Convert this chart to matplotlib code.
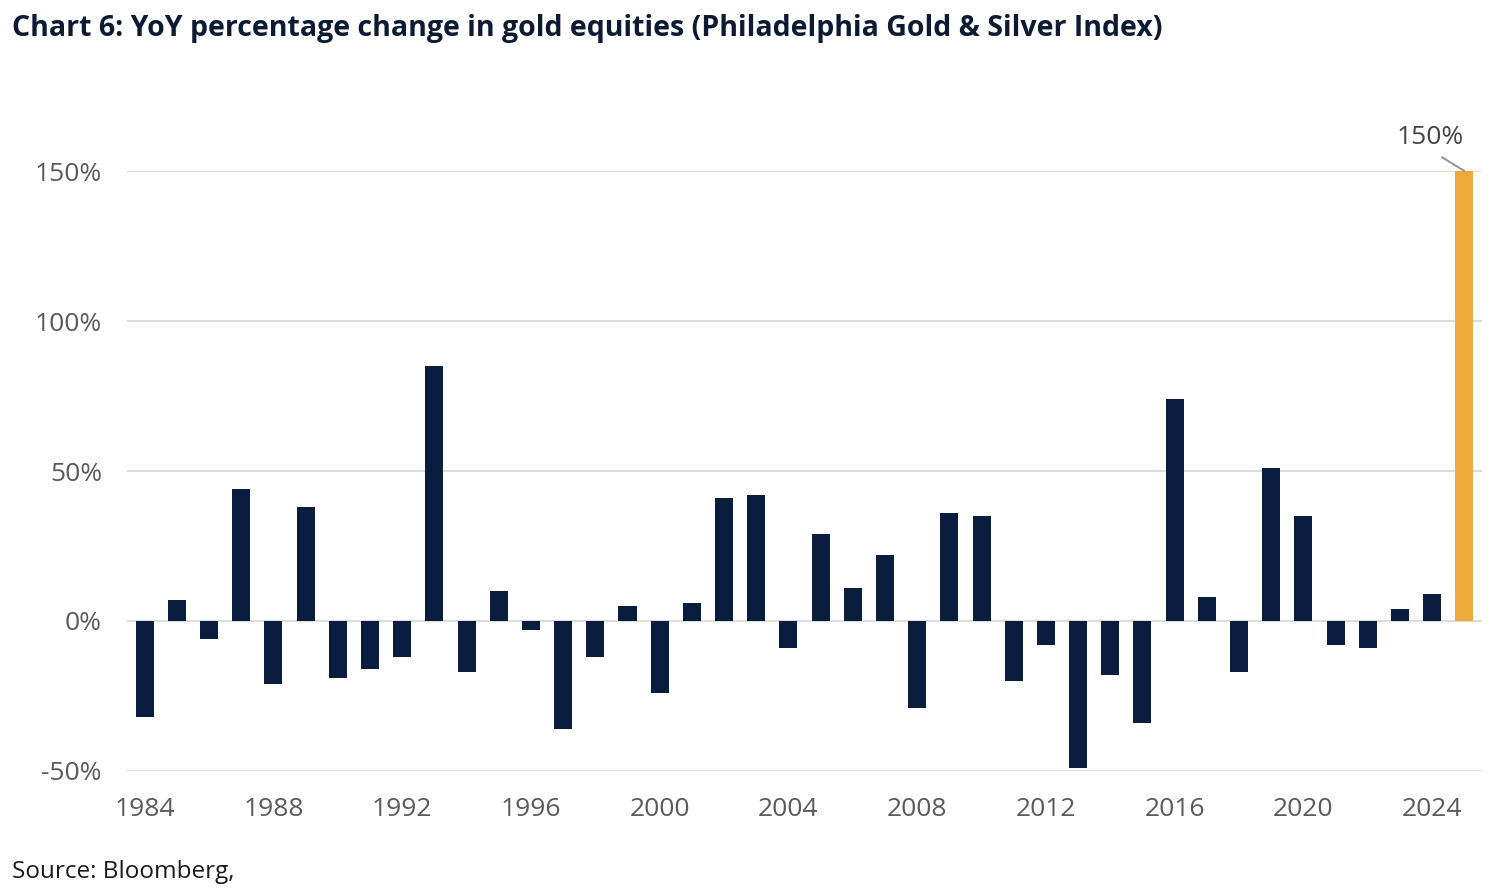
import matplotlib.pyplot as plt
import numpy as np

years = list(range(1984, 2026))
changes = [-32, 7, -6, 44, -21, 38, -19, -16, -12, 85,
           -17, 10, -3, -36, -12, 5, -24, 6, 41, 42,
           -9, 29, 11, 22, -29, 36, 35, -20, -8, -49,
           -18, -34, 74, 8, -17, 51, 35, -8, -9, 4,
           9, 150]
tick_years = list(range(1984, 2025, 4))
yticks = [-50, 0, 50, 100, 150]

navy = '#0b1d3f'
gold = '#ecaa3a'
grey = '#5a5a5a'

plt.rcParams['font.family'] = ['Open Sans', 'DejaVu Sans']

fig = plt.figure(figsize=(14.94, 8.94), dpi=100)
ax = fig.add_axes([0.085, 0.1376, 0.907, 0.6711])

colors = [navy] * (len(years) - 1) + [gold]
ax.bar(years, changes, width=0.56, color=colors, zorder=3)

ax.set_ylim(-50, 150)
ax.set_xlim(1983.45, 2025.55)
ax.set_yticks(yticks)
ax.set_yticklabels([f'{v}%' for v in yticks])
ax.set_xticks(tick_years)
ax.grid(axis='y', color='#dcdcdc', linewidth=1.5, zorder=0)
ax.tick_params(axis='both', length=0, labelsize=19, labelcolor=grey)
ax.tick_params(axis='x', pad=19)
ax.tick_params(axis='y', pad=18)
for s in ax.spines.values():
    s.set_visible(False)

# label on the last bar
ax.annotate(f'{changes[-1]}%', xy=(years[-1], changes[-1]), xytext=(2023.95, 157),
            textcoords='data', ha='center', va='bottom', fontsize=19, color='#444444',
            arrowprops=dict(arrowstyle='-', color='#999999', lw=1.5,
                            shrinkA=6, shrinkB=0, relpos=(0.5, 0.0)),
            annotation_clip=False)

fig.text(0.008, 0.968, 'Chart 6: YoY percentage change in gold equities (Philadelphia Gold & Silver Index)',
         fontsize=20.5, fontweight='bold', color='#0d1a33', va='center')
fig.text(0.008, 0.025, 'Source: Bloomberg,', fontsize=17.5, color='#1a1a1a', va='center')

plt.savefig('out.png', dpi=100)
